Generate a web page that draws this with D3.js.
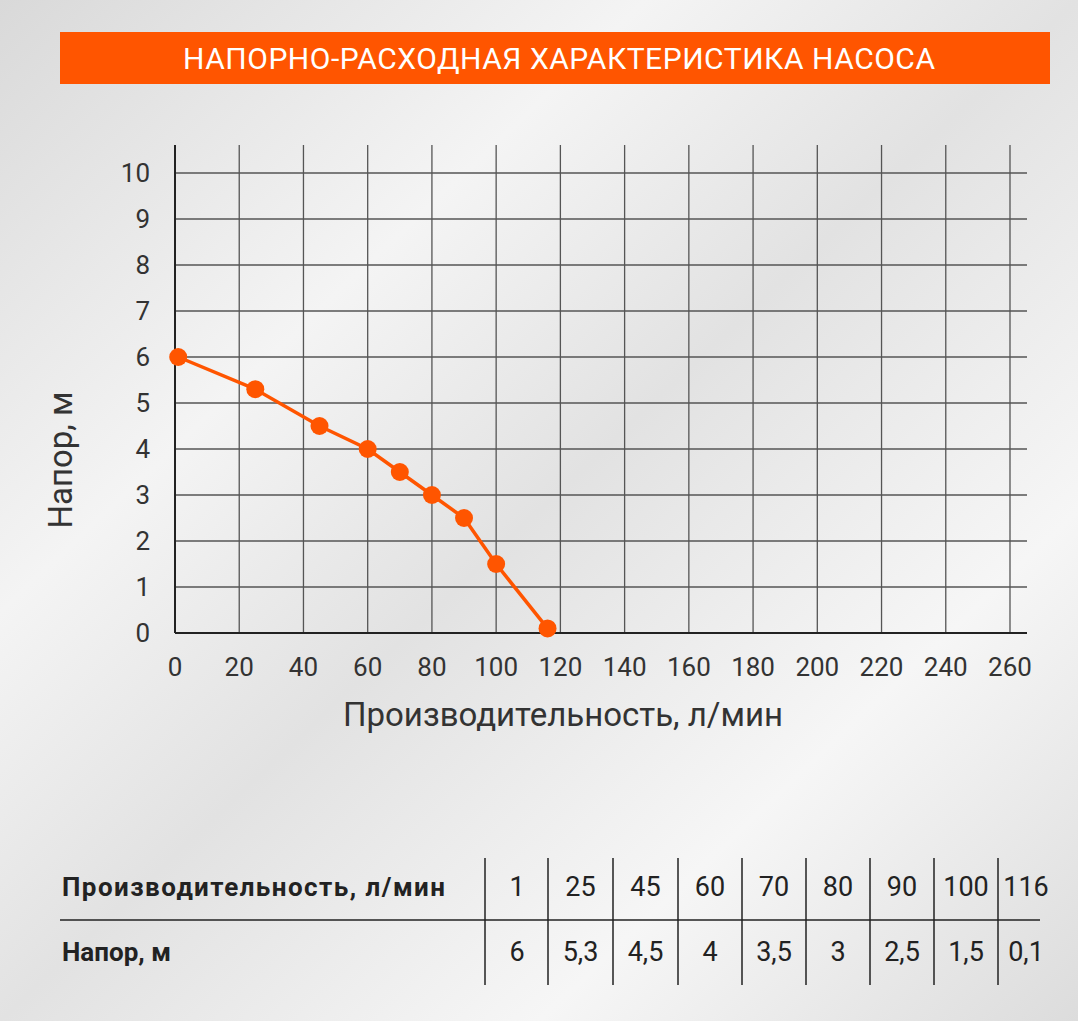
<!DOCTYPE html>
<html><head><meta charset="utf-8">
<script src="https://cdn.jsdelivr.net/npm/d3@7"></script>
<style>body{margin:0;overflow:hidden}</style>
</head><body>
<svg id="c" width="1078" height="1021"></svg>
<script>
const flow = [1, 25, 45, 60, 70, 80, 90, 100, 116];
const head = [6, 5.3, 4.5, 4, 3.5, 3, 2.5, 1.5, 0.1];
const flowLabels = ["1","25","45","60","70","80","90","100","116"];
const headLabels = ["6","5,3","4,5","4","3,5","3","2,5","1,5","0,1"];
const xTicks = d3.range(0, 261, 20);
const yTicks = d3.range(0, 11, 1);
const title = "НАПОРНО-РАСХОДНАЯ ХАРАКТЕРИСТИКА НАСОСА";

const svg = d3.select("#c");
const defs = svg.append("defs");
const g = defs.append("linearGradient").attr("id","bg").attr("x1",0).attr("y1",0).attr("x2",1).attr("y2",1);
[["0","#d9d9d9"],["0.3","#f4f4f4"],["0.5","#e2e2e2"],["0.75","#f6f6f6"],["1","#dcdcdc"]].forEach(s=>g.append("stop").attr("offset",s[0]).attr("stop-color",s[1]));
svg.append("rect").attr("width",1078).attr("height",1021).attr("fill","url(#bg)");

svg.append("rect").attr("x",60).attr("y",32).attr("width",990).attr("height",52).attr("fill","#ff5500");
svg.append("text").attr("x",559).attr("y",69).attr("text-anchor","middle").attr("fill","#fff")
  .attr("font-family","Roboto").attr("font-size",30).attr("textLength",752).text(title);

const x = d3.scaleLinear().domain([0,260]).range([175,1010]);
const y = d3.scaleLinear().domain([0,10]).range([633,173]);
const font = "Roboto", col = "#333";
const grid = svg.append("g").attr("stroke","#555").attr("stroke-width",1.3);
xTicks.forEach(t=>grid.append("line").attr("x1",x(t)).attr("x2",x(t)).attr("y1",145).attr("y2",633));
yTicks.forEach(t=>grid.append("line").attr("x1",175).attr("x2",1027).attr("y1",y(t)).attr("y2",y(t)));
svg.append("line").attr("x1",175).attr("x2",1027).attr("y1",633).attr("y2",633).attr("stroke","#222").attr("stroke-width",2);
svg.append("line").attr("x1",175).attr("x2",175).attr("y1",145).attr("y2",633).attr("stroke","#222").attr("stroke-width",2);

xTicks.forEach(t=>svg.append("text").attr("x",x(t)).attr("y",676).attr("text-anchor","middle")
  .attr("font-family",font).attr("font-size",26).attr("fill",col).text(t));
yTicks.forEach(t=>svg.append("text").attr("x",150).attr("y",y(t)+9).attr("text-anchor","end")
  .attr("font-family",font).attr("font-size",26).attr("fill",col).text(t));
svg.append("text").attr("x",563).attr("y",726).attr("text-anchor","middle").attr("font-family",font)
  .attr("font-size",33).attr("fill",col).text("Производительность, л/мин");
svg.append("text").attr("transform","translate(72,460) rotate(-90)").attr("text-anchor","middle")
  .attr("font-family",font).attr("font-size",33).attr("fill",col).text("Напор, м");

const pts = flow.map((f,i)=>[f,head[i]]);
svg.append("path").attr("d",d3.line().x(d=>x(d[0])).y(d=>y(d[1]))(pts))
  .attr("fill","none").attr("stroke","#ff5500").attr("stroke-width",3.5);
svg.selectAll("circle.p").data(pts).join("circle").attr("cx",d=>x(d[0])).attr("cy",d=>y(d[1]))
  .attr("r",9).attr("fill","#ff5500");

// table
const seps = [485,548,613,678,742,806,870,934,998];
const tg = svg.append("g").attr("stroke","#222").attr("stroke-width",1.5);
tg.append("line").attr("x1",60).attr("x2",1040).attr("y1",920).attr("y2",920);
seps.forEach(s=>tg.append("line").attr("x1",s).attr("x2",s).attr("y1",858).attr("y2",985));
svg.append("text").attr("x",62).attr("y",896).attr("font-family",font).attr("font-weight","bold")
  .attr("font-size",26).attr("textLength",383).attr("fill","#222").text("Производительность, л/мин");
svg.append("text").attr("x",62).attr("y",961).attr("font-family",font).attr("font-weight","bold")
  .attr("font-size",26).attr("fill","#222").text("Напор, м");
const cellC = seps.map((s,i)=> i<seps.length-1 ? (s+seps[i+1])/2 : s+28);
cellC[0] = 517;
flowLabels.forEach((l,i)=>svg.append("text").attr("x",cellC[i]).attr("y",896).attr("text-anchor","middle")
  .attr("font-family",font).attr("font-size",27).attr("fill","#222").text(l));
headLabels.forEach((l,i)=>svg.append("text").attr("x",cellC[i]).attr("y",961).attr("text-anchor","middle")
  .attr("font-family",font).attr("font-size",27).attr("fill","#222").text(l));
</script>
</body></html>
